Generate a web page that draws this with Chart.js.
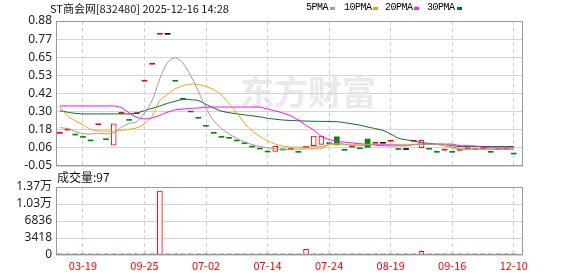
<!DOCTYPE html>
<html>
<head>
<meta charset="utf-8">
<script src="https://cdn.jsdelivr.net/npm/chart.js@4.4.1/dist/chart.umd.min.js"></script>
<style>
  body { margin: 0; background: #fff; width: 578px; height: 276px; overflow: hidden; position: relative; }
  canvas { position: absolute; left: 0; }
  #priceChart { top: 0; }
  #volChart { top: 170px; }
  .txt { position: absolute; white-space: pre; font-family: "Noto Sans CJK SC", sans-serif; font-size: 11px; line-height: 1; color: #111; }
  .leg { font-family: "Liberation Mono", monospace; font-size: 10px; letter-spacing: -0.5px; top: 3px; color: #000; }
  .sq { position: absolute; top: 7px; width: 5px; height: 3px; }
  #wm { position: absolute; left: 240px; top: 74px; font-family: "Noto Sans CJK SC", sans-serif; font-size: 34px; font-weight: bold; color: #e9e9ee; line-height: 1; }
</style>
</head>
<body>
<div id="wm">东方财富</div>
<canvas id="priceChart" width="578" height="180"></canvas>
<canvas id="volChart" width="578" height="106"></canvas>

<div class="txt" style="left:50px;top:3px">ST商会网[832480] 2025-12-16 14:28</div>
<div class="txt leg" style="left:306px">5PMA</div>
<div class="sq" style="left:330px;background:#a0a0a0"></div>
<div class="txt leg" style="left:344px">10PMA</div>
<div class="sq" style="left:373px;background:#f5a300"></div>
<div class="txt leg" style="left:385px">20PMA</div>
<div class="sq" style="left:414px;background:#ff22ff"></div>
<div class="txt leg" style="left:427px">30PMA</div>
<div class="sq" style="left:457px;background:#00703a"></div>
<div class="txt" style="left:57px;top:171px;font-size:12px">成交量:97</div>

<script>
// tick labels shown on the axes
const tickLabels = ["03-19", "09-25", "07-02", "07-14", "07-24", "08-19", "09-16", "12-10"];
const tickIndex = [3, 11, 19, 27, 35, 43, 51, 59];
const priceTicks = ["0.88", "0.77", "0.65", "0.53", "0.42", "0.30", "0.18", "0.06", "-0.05"];
const priceMin = -0.05, priceMax = 0.88;
const volTicks = ["1.37万", "1.03万", "6836", "3418", "0"];
const volMax = 13672;

// daily open / close (flat days have open == close)
const openP = [
  0.166, 0.187, 0.155, 0.140, 0.117, 0.221, 0.125, 0.083, 0.294, 0.249,
  0.292, 0.500, 0.609, 0.801, 0.801, 0.500, 0.385, 0.303, 0.262, 0.211,
  0.166, 0.140, 0.134, 0.117, 0.099, 0.078, 0.065, 0.046, 0.043, 0.059,
  0.062, 0.044, 0.076, 0.080, 0.089, 0.100, 0.137, 0.057, 0.078, 0.067,
  0.123, 0.102, 0.102, 0.115, 0.062, 0.062, 0.115, 0.067, 0.064, 0.044,
  0.058, 0.044, 0.057, 0.066, 0.062, 0.066, 0.044, 0.062, 0.064, 0.033
];
const closeP = [
  0.166, 0.187, 0.155, 0.140, 0.117, 0.221, 0.125, 0.221, 0.294, 0.249,
  0.292, 0.500, 0.609, 0.801, 0.801, 0.500, 0.378, 0.303, 0.256, 0.211,
  0.166, 0.140, 0.134, 0.117, 0.099, 0.078, 0.065, 0.046, 0.076, 0.059,
  0.062, 0.044, 0.076, 0.142, 0.142, 0.100, 0.085, 0.057, 0.078, 0.067,
  0.070, 0.102, 0.102, 0.115, 0.062, 0.062, 0.115, 0.115, 0.064, 0.044,
  0.058, 0.044, 0.057, 0.066, 0.062, 0.066, 0.044, 0.062, 0.064, 0.033
];
const prevClose0 = 0.16;

const volume = [
  150, 160, 120, 130, 110, 170, 100, 190, 180, 120,
  170, 190, 190, 12870, 150, 130, 180, 120, 170, 110,
  100, 100, 90, 100, 90, 90, 80, 100, 190, 120,
  150, 110, 1150, 190, 190, 120, 190, 100, 120, 110,
  180, 120, 100, 120, 110, 100, 120, 740, 110, 100,
  90, 100, 110, 90, 100, 90, 100, 90, 90, 97
];

const ma5 = [
  0.196, 0.190, 0.172, 0.158, 0.155, 0.160, 0.156, 0.162, 0.198, 0.222,
  0.234, 0.290, 0.370, 0.510, 0.615, 0.645, 0.610, 0.530, 0.430, 0.320,
  0.240, 0.190, 0.155, 0.128, 0.106, 0.088, 0.076, 0.066, 0.060, 0.057,
  0.056, 0.058, 0.060, 0.060, 0.062, 0.092, 0.095, 0.090, 0.080, 0.080,
  0.085, 0.089, 0.089, 0.087, 0.085, 0.080, 0.086, 0.089, 0.089, 0.089,
  0.078, 0.067, 0.060, 0.059, 0.059, 0.059, 0.058, 0.058, 0.058, 0.058
];
const ma10 = [
  0.330, 0.270, 0.240, 0.215, 0.185, 0.176, 0.174, 0.174, 0.178, 0.185,
  0.195, 0.220, 0.270, 0.370, 0.410, 0.445, 0.465, 0.475, 0.472, 0.460,
  0.440, 0.405, 0.350, 0.290, 0.225, 0.175, 0.140, 0.112, 0.090, 0.078,
  0.072, 0.070, 0.072, 0.074, 0.076, 0.085, 0.089, 0.089, 0.089, 0.089,
  0.089, 0.089, 0.089, 0.089, 0.089, 0.089, 0.089, 0.089, 0.089, 0.089,
  0.089, 0.070, 0.058, 0.058, 0.058, 0.058, 0.058, 0.058, 0.058, 0.058
];
const ma20 = [
  0.335, 0.335, 0.335, 0.335, 0.335, 0.335, 0.335, 0.335, 0.325, 0.290,
  0.262, 0.252, 0.258, 0.275, 0.295, 0.310, 0.315, 0.320, 0.322, 0.326,
  0.328, 0.328, 0.328, 0.328, 0.328, 0.328, 0.328, 0.315, 0.303, 0.290,
  0.272, 0.245, 0.210, 0.180, 0.140, 0.120, 0.108, 0.103, 0.098, 0.093,
  0.089, 0.084, 0.080, 0.079, 0.080, 0.080, 0.088, 0.090, 0.090, 0.090,
  0.090, 0.090, 0.080, 0.080, 0.078, 0.070, 0.066, 0.066, 0.066, 0.066
];
const ma30 = [
  0.305, 0.295, 0.288, 0.284, 0.284, 0.284, 0.284, 0.284, 0.284, 0.284,
  0.290, 0.305, 0.320, 0.335, 0.352, 0.365, 0.378, 0.375, 0.370, 0.345,
  0.322, 0.302, 0.292, 0.285, 0.278, 0.272, 0.265, 0.256, 0.250, 0.245,
  0.242, 0.240, 0.238, 0.237, 0.236, 0.235, 0.234, 0.228, 0.220, 0.212,
  0.200, 0.190, 0.178, 0.155, 0.128, 0.118, 0.110, 0.100, 0.095, 0.090,
  0.088, 0.080, 0.075, 0.075, 0.075, 0.075, 0.075, 0.075, 0.075, 0.075
];

const RED = "#ff0000";
const GREEN = "#008a00";
const idx = closeP.map((_, i) => i);
const xMax = 60.2;

function candleColor(i) {
  const o = openP[i], c = closeP[i];
  if (c > o) return RED;
  if (c < o) return GREEN;
  const prev = i > 0 ? closeP[i - 1] : prevClose0;
  if (c > prev) return RED;
  if (c < prev) return GREEN;
  return "#000000";
}
function isHollow(i) { return closeP[i] > openP[i]; }
function volColor(i) { const c = candleColor(i); return c === GREEN ? GREEN : RED; }

const frame = {
  id: "frame",
  afterDraw(chart) {
    const { ctx, chartArea: a } = chart;
    ctx.save();
    ctx.strokeStyle = "#999";
    ctx.lineWidth = 1;
    ctx.strokeRect(Math.round(a.left) + 0.5, Math.round(a.top) + 0.5,
      Math.round(a.right - a.left) - 1, Math.round(a.bottom - a.top) - 1);
    ctx.restore();
  }
};

const axisFont = { family: "'Noto Sans', 'Noto Sans CJK SC', sans-serif", size: 12 };

function xAxis(showLabels, height) {
  return {
    type: "linear", min: -0.5, max: xMax, offset: false,
    afterBuildTicks: ax => { ax.ticks = tickIndex.map(v => ({ value: v })); },
    afterFit: ax => { ax.height = height; },
    ticks: {
      display: showLabels, autoSkip: false, maxRotation: 0, padding: 4, color: "#ff0000",
      font: { family: "'Noto Sans CJK SC', sans-serif", size: 11 },
      callback: v => tickLabels[tickIndex.indexOf(v)]
    },
    grid: { color: "#d0d0d0", drawTicks: false, offset: false },
    border: { display: false, dash: [4, 3] }
  };
}

function yAxis(min, max, labels) {
  const step = (max - min) / (labels.length - 1);
  return {
    min: min, max: max,
    afterBuildTicks: ax => { ax.ticks = labels.map((_, k) => ({ value: max - k * step })); },
    afterFit: ax => { ax.width = 56; },
    ticks: {
      autoSkip: false, padding: 4, color: "#222", font: axisFont,
      callback: v => labels[Math.round((max - v) / step)]
    },
    grid: { color: "#d4d4d4", drawTicks: false },
    border: { display: false }
  };
}

function maLine(values, color) {
  return {
    type: "line",
    data: idx.map(i => ({ x: i, y: values[i] })),
    borderColor: color, borderWidth: 1, pointRadius: 0, tension: 0.25, order: 1
  };
}

new Chart(document.getElementById("priceChart"), {
  type: "bar",
  data: {
    datasets: [
      maLine(ma5, "#9a9a9a"),
      maLine(ma10, "#f5a300"),
      maLine(ma20, "#ff00ff"),
      maLine(ma30, "#00662b"),
      {
        type: "bar",
        data: idx.map(i => ({ x: i, y: [openP[i], closeP[i]] })),
        barThickness: 5,
        minBarLength: 1,
        borderSkipped: false,
        backgroundColor: ctx => isHollow(ctx.dataIndex) ? "#ffffff" : candleColor(ctx.dataIndex),
        borderColor: ctx => candleColor(ctx.dataIndex),
        borderWidth: ctx => isHollow(ctx.dataIndex) ? 1 : 0,
        order: 2
      }
    ]
  },
  options: {
    responsive: false, animation: false, devicePixelRatio: 1,
    layout: { padding: { top: 21, right: 55, bottom: 0, left: 0 } },
    plugins: { legend: { display: false }, tooltip: { enabled: false } },
    scales: { x: xAxis(false, 14), y: yAxis(priceMin, priceMax, priceTicks) }
  },
  plugins: [frame]
});

new Chart(document.getElementById("volChart"), {
  type: "bar",
  data: {
    datasets: [{
      data: idx.map(i => ({ x: i, y: volume[i] })),
      barThickness: 5,
      minBarLength: 1,
      borderSkipped: false,
      backgroundColor: ctx => (volume[ctx.dataIndex] > 500 && volColor(ctx.dataIndex) === RED) ? "#ffffff" : volColor(ctx.dataIndex),
      borderColor: ctx => volColor(ctx.dataIndex),
      borderWidth: ctx => (volume[ctx.dataIndex] > 500 && volColor(ctx.dataIndex) === RED) ? 1 : 0
    }]
  },
  options: {
    responsive: false, animation: false, devicePixelRatio: 1,
    layout: { padding: { top: 17, right: 55, bottom: 0, left: 0 } },
    plugins: { legend: { display: false }, tooltip: { enabled: false } },
    scales: { x: xAxis(true, 21), y: yAxis(0, volMax, volTicks) }
  },
  plugins: [frame]
});
</script>
</body>
</html>
